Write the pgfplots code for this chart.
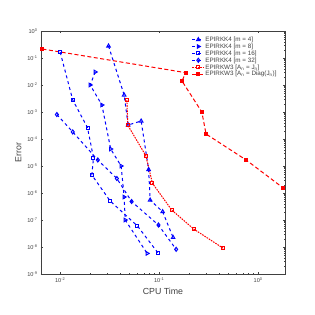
\documentclass[border=0pt]{standalone}
\usepackage{pgfplots}
\pgfplotsset{compat=1.18}
\usepackage{fontspec}
\setmainfont{Liberation Sans}
\definecolor{axgray}{gray}{0.25}
\begin{document}
\begin{tikzpicture}
\useasboundingbox (-41pt,-41pt) rectangle (274pt,274pt);
\begin{axis}[
  at={(0,0)}, anchor=south west,
  scale only axis, width=244pt, height=243pt,
  xmode=log, ymode=log,
  xmin=0.0064, xmax=1.87, ymin=1e-9, ymax=1,
  xtick={0.01,0.1,1},
  xticklabels={10\textsuperscript{-2},10\textsuperscript{-1},10\textsuperscript{0}},
  ytick={1e-9,1e-8,1e-7,1e-6,1e-5,1e-4,1e-3,1e-2,1e-1,1},
  yticklabels={10\textsuperscript{-9},10\textsuperscript{-8},10\textsuperscript{-7},10\textsuperscript{-6},10\textsuperscript{-5},10\textsuperscript{-4},10\textsuperscript{-3},10\textsuperscript{-2},10\textsuperscript{-1},10\textsuperscript{0}},
  tick label style={font=\fontsize{5.6}{6}\selectfont, text=axgray},
  axis line style={axgray, line width=0.5pt},
  every tick/.style={axgray, line width=0.4pt},
  tick align=inside,
  major tick length=2.5pt, minor tick length=1.4pt,
  xlabel={CPU Time}, ylabel={Error},
  label style={font=\fontsize{8.8}{9}\selectfont, text=axgray},
  xlabel style={yshift=2pt},
  ylabel style={yshift=-1pt},
  legend style={at={(rel axis cs:0.605,0.987)}, anchor=north west, draw=none, fill=none,
    font=\fontsize{6.3}{6.5}\selectfont, text=axgray, row sep=0.4pt,
    nodes={inner sep=0.5pt, text height=4.6pt, text depth=0.9pt}},
  legend cell align=left,
  legend image code/.code={\draw[mark repeat=2,mark phase=2,#1] plot coordinates {(0pt,0pt)(6pt,0pt)(12pt,0pt)};},
  every axis plot/.append style={line width=1pt},
]
% m = 4
\addplot[blue, dashed, mark=triangle, mark size=2pt, mark options={solid, fill=white}] coordinates {
 (0.0308,0.278) (0.0443,4.26e-3) (0.0486,3.3e-4) (0.0658,4.64e-4) (0.0783,7.4e-6) (0.0811,5.5e-7) (0.1085,2.03e-7) (0.1384,2.25e-8)};
\addlegendentry{EPIRKK4 [m = 4]}
% m = 8
\addplot[blue, dashed, mark=triangle, mark size=2pt, mark options={solid, fill=white, rotate=-90}] coordinates {
 (0.0226,0.0303) (0.0201,0.01) (0.0264,1.82e-3) (0.0324,4.26e-5) (0.0413,1.0e-5) (0.0443,7.1e-7) (0.0454,1.0e-7) (0.0757,5.8e-9)};
\addlegendentry{EPIRKK4 [m = 8]}
% m = 16
\addplot[blue, dashed, mark=square, mark size=1.5pt, mark options={solid, fill=white}] coordinates {
 (0.01,0.164) (0.0134,2.78e-3) (0.0189,2.62e-4) (0.0217,2.03e-5) (0.0209,4.64e-6) (0.032,5.06e-7) (0.0604,6.0e-8) (0.097,6.15e-9)};
\addlegendentry{EPIRKK4 [m = 16]}
% m = 32
\addplot[blue, dashed, mark=diamond, mark size=2pt, mark options={solid, fill=white}] coordinates {
 (0.00926,8.07e-4) (0.0134,1.82e-4) (0.024,1.67e-5) (0.0374,3.44e-6) (0.0527,4.84e-7) (0.0984,6.53e-8) (0.1485,8.2e-9)};
\addlegendentry{EPIRKK4 [m = 32]}
% J_n
\addplot[red, dash pattern=on 1.6pt off 1pt, mark=square, mark size=1.5pt, mark options={solid, fill=white}] coordinates {
 (0.0472,2.78e-3) (0.0483,3.2e-4) (0.0734,2.4e-5) (0.0856,2.29e-6) (0.134,2.34e-7) (0.224,4.6e-8) (0.446,8.9e-9)};
\addlegendentry{EPIRKW3 [A\textsubscript{n} = J\textsubscript{n}]}
% Diag
\addplot[red, dash pattern=on 4pt off 2.5pt, mark=square*, mark size=1.5pt, mark options={solid}] coordinates {
 (0.00662,0.215) (0.186,0.0286) (0.170,0.0141) (0.270,1.0e-3) (0.298,1.53e-4) (0.757,1.67e-5) (1.78,1.57e-6)};
\addlegendentry{EPIRKW3 [A\textsubscript{n} = Diag(J\textsubscript{n})]}
\end{axis}
\end{tikzpicture}
\end{document}
